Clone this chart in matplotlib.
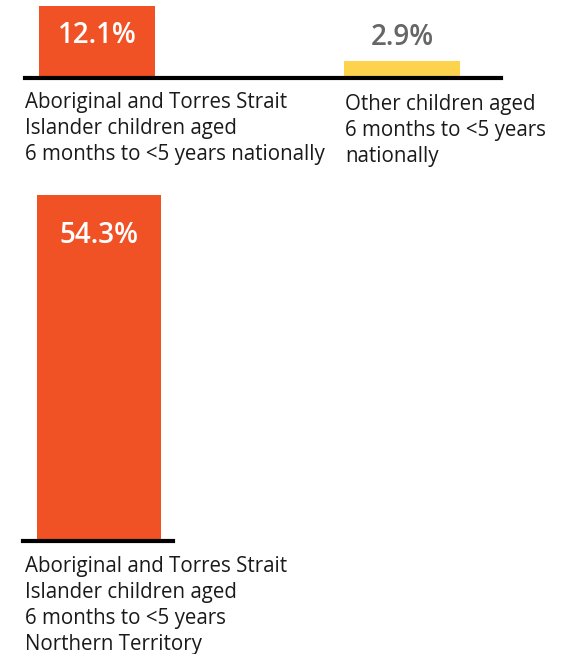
import matplotlib.pyplot as plt

plt.rcParams['font.family'] = ['Open Sans', 'Noto Sans', 'DejaVu Sans']

# national comparison
national_labels = ["Aboriginal and Torres Strait\nIslander children aged\n6 months to <5 years nationally",
                   "Other children aged\n6 months to <5 years\nnationally"]
national_values = [12.1, 2.9]
national_colors = ["#F05125", "#FDD34D"]

# Northern Territory
nt_label = "Aboriginal and Torres Strait\nIslander children aged\n6 months to <5 years\nNorthern Territory"
nt_value = 54.3
nt_color = "#F05125"

W, H = 582, 654
fig = plt.figure(figsize=(W / 100, H / 100), dpi=100)


def px_axes(x0, y0, x1, y1):
    # pixel box (top-left origin) -> figure axes
    return fig.add_axes([x0 / W, 1 - y1 / H, (x1 - x0) / W, (y1 - y0) / H])


def style(ax):
    for s in ["top", "right", "left"]:
        ax.spines[s].set_visible(False)
    ax.spines["bottom"].set_linewidth(3)
    ax.spines["bottom"].set_color("black")
    ax.set_xticks([])
    ax.set_yticks([])
    ax.patch.set_alpha(0)


# top panel
ax1 = px_axes(25, 6, 501, 78)
unit = 305
ax1.bar([0, 1], national_values, width=116 / unit, color=national_colors, zorder=1)
ax1.set_xlim(-72 / unit, (501 - 97) / unit)
ax1.set_ylim(0, max(national_values))
style(ax1)
ax1.text(0, national_values[0] - 4.9, f"{national_values[0]}%", ha="center", va="center",
         color="white", fontsize=20, fontweight="semibold")
ax1.text(1, national_values[1] + 3.9, f"{national_values[1]}%", ha="center", va="center",
         color="#666666", fontsize=20, fontweight="semibold")

lab = dict(ha="left", va="top", fontsize=14.8, color="#1a1a1a", linespacing=1.32)
fig.text(25 / W, 1 - 92 / H, national_labels[0], **lab)
fig.text(345 / W, 1 - 94 / H, national_labels[1], **lab)

# bottom panel
ax2 = px_axes(23, 195, 173, 541)
unit2 = 155
ax2.bar([0], [nt_value], width=124 / unit2, color=nt_color)
ax2.set_xlim(-76 / unit2, 74 / unit2)
ax2.set_ylim(0, nt_value)
style(ax2)
ax2.text(0, nt_value - 6.4, f"{nt_value}%", ha="center", va="center",
         color="white", fontsize=20, fontweight="semibold")

fig.text(25 / W, 1 - 556 / H, nt_label, **lab)

fig.savefig("out.png", dpi=100)
